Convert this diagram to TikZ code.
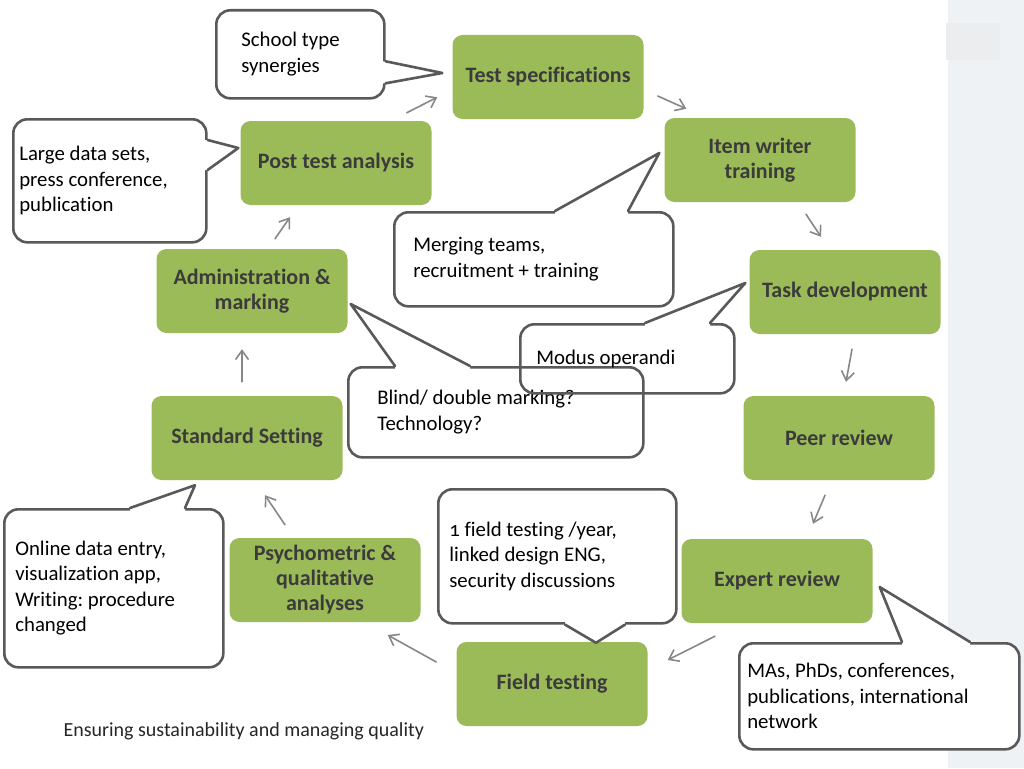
\documentclass[tikz,border=0pt]{standalone}
\usepackage{fontspec}
\setmainfont{Carlito}[Ligatures=NoCommon]
\usetikzlibrary{arrows.meta,calc}

\definecolor{stagegreen}{HTML}{9BBB59}
\definecolor{stagetext}{HTML}{3B3B3B}
\definecolor{notegrey}{HTML}{595959}
\definecolor{flowgrey}{HTML}{878787}
\definecolor{panelgrey}{HTML}{EEF2F5}
\definecolor{tabgrey}{HTML}{EBEDEE}

% pointer of a speech bubble: base, tip, base, inward shift
\newcommand{\tail}[4]{%
  \fill[white] ($#1+#4$) -- #1 -- #2 -- #3 -- ($#3+#4$) -- cycle;
  \draw[notegrey, line width=2.6pt] #1 -- #2 -- #3;}

\begin{document}
\begin{tikzpicture}[line cap=round,line join=round,x=1pt,y=-1pt,
  stage/.style={rectangle, rounded corners=10pt, fill=stagegreen,
    minimum width=191pt, minimum height=84pt, align=center,
    text=stagetext, font=\fontsize{22}{25}\selectfont\bfseries},
  bubble/.style={rectangle, draw=notegrey, line width=2.6pt, fill=white,
    rounded corners=14pt, anchor=north west, align=left, inner ysep=0pt,
    font=\fontsize{20.8}{25.5}\selectfont,
    execute at begin node={\spaceskip=0pt\xspaceskip=0pt\frenchspacing}},
  flow/.style={draw=flowgrey, line width=1.6pt,
    -{Straight Barb[length=9pt,width=13pt]}}]
	\useasboundingbox (0,0) rectangle (1024,768);
	%panneau de droite
	\fill[panelgrey] (948,0) rectangle (1024,768);
	\fill[tabgrey] (946,23) rectangle (1000,60);
	%etapes
	\node[stage] (spec) at (548,77) {Test specifications};
	\node[stage] (item) at (760,160) {Item writer\\training};
	\node[stage] (task) at (845,292) {Task development};
	\node[stage] (peer) at (839,438) {Peer review};
	\node[stage] (expert) at (777,581) {Expert review};
	\node[stage] (field) at (552,684) {Field testing};
	\node[stage] (psych) at (325,580) {Psychometric \&\\qualitative\\analyses};
	\node[stage] (standard) at (247,438) {Standard Setting};
	\node[stage] (admin) at (252,291) {Administration \&\\marking};
	\node[stage] (post) at (336,163) {Post test analysis};
	%fleches
	\draw[flow] ($(post.north east)+(-25,-8)$) -- ($(spec.south west)+(-15,-22)$);
	\draw[flow] ($(spec.east)+(14,19)$) -- ($(item.north west)+(22,-9)$);
	\draw[flow] ($(item.south)+(46,12)$) -- ($(task.north)+(-24,-13)$);
	\draw[flow] ($(task.south)+(7,15)$) -- ($(peer.north)+(7,-14)$);
	\draw[flow] ($(peer.south)+(-14,15)$) -- ($(expert.north)+(36,-15)$);
	\draw[flow] ($(expert.south)+(-62,13)$) -- ($(field.east)+(20,-24)$);
	\draw[flow] ($(field.west)+(-20,-22)$) -- ($(psych.east)+(-33,55)$);
	\draw[flow] ($(psych.north)+(-40,-13)$) -- ($(standard.south)+(18,15)$);
	\draw[flow] ($(standard.north)+(-5,-14)$) -- ($(admin.south)+(-10,16)$);
	\draw[flow] ($(admin.north)+(23,-10)$) -- ($(post.south)+(-46,12)$);
	%bulles
	\node[bubble, inner xsep=25pt, text width=118pt, minimum height=88pt] (school) at (215,9)
		{School type\\synergies};
	\coordinate (s1) at ($(school.east)+(0,7)$);
	\coordinate (s2) at ($(school.east)+(0,29)$);
	\coordinate (st) at ($(spec.west)+(-10,-4)$);
	\tail{(s1)}{(st)}{(s2)}{(-3,0)}
	\node[bubble, inner xsep=6pt, text width=181pt, minimum height=123pt] (large) at (12,118)
		{Large data sets,\\press conference,\\publication};
	\coordinate (l1) at ($(large.north east)+(0,22)$);
	\coordinate (l2) at ($(large.north east)+(0,52)$);
	\coordinate (lt) at ($(post.west)+(-2,-15)$);
	\tail{(l1)}{(lt)}{(l2)}{(-3,0)}
	\node[bubble, inner xsep=19pt, text width=241pt, minimum height=94pt] (merge) at (393,211)
		{Merging teams,\\recruitment + training};
	\coordinate (m1) at ($(merge.north west)+(162,0)$);
	\coordinate (m2) at ($(merge.north west)+(235,0)$);
	\coordinate (mt) at ($(item.west)+(-5,-7)$);
	\tail{(m1)}{(mt)}{(m2)}{(0,3)}
	\node[bubble, inner xsep=29pt, text width=237pt, minimum height=90pt] (blind) at (347,366)
		{Blind/ double marking?\\Technology?};
	\coordinate (b1) at ($(blind.north west)+(48,0)$);
	\coordinate (b2) at ($(blind.north west)+(123,0)$);
	\coordinate (bt) at ($(admin.east)+(3,13)$);
	\tail{(b1)}{(bt)}{(b2)}{(0,3)}
	\node[bubble, fill=none, inner xsep=16pt, text width=182pt, minimum height=69pt] (modus) at (519,323)
		{Modus operandi};
	\coordinate (o1) at ($(modus.north west)+(126,0)$);
	\coordinate (o2) at ($(modus.north west)+(191,0)$);
	\coordinate (ot) at ($(task.west)+(-4,-9)$);
	\tail{(o1)}{(ot)}{(o2)}{(0,3)}
	\node[bubble, inner xsep=11pt, text width=216pt, minimum height=134pt] (fieldnote) at (437,488)
		{{\addfontfeatures{Numbers=OldStyle}1} field testing /year,\\linked design ENG,\\security discussions};
	\coordinate (f1) at ($(fieldnote.south west)+(128,0)$);
	\coordinate (f2) at ($(fieldnote.south west)+(188,0)$);
	\coordinate (ft) at ($(field.north)+(44,1)$);
	\tail{(f1)}{(ft)}{(f2)}{(0,-3)}
	\node[bubble, inner xsep=11pt, text width=197pt, minimum height=158pt] (online) at (3,508)
		{Online data entry,\\visualization app,\\Writing: procedure\\changed};
	\coordinate (n1) at ($(online.north west)+(127,0)$);
	\coordinate (n2) at ($(online.north west)+(182,0)$);
	\coordinate (nt) at ($(standard.south)+(-52,5)$);
	\tail{(n1)}{(nt)}{(n2)}{(0,3)}
	\node[bubble, inner xsep=8pt, text width=264pt, minimum height=106pt] (mas) at (738,642)
		{MAs, PhDs, conferences,\\publications, international\\network};
	\coordinate (p1) at ($(mas.north west)+(164,0)$);
	\coordinate (p2) at ($(mas.north west)+(232,0)$);
	\coordinate (pt) at ($(expert.east)+(7,6)$);
	\tail{(p1)}{(pt)}{(p2)}{(0,3)}
	%pied de page
	\node[anchor=west, text=black!85, font=\fontsize{20}{22}\selectfont] (foot) at (60,731)
		{Ensuring sustainability and managing quality};
\end{tikzpicture}
\end{document}
